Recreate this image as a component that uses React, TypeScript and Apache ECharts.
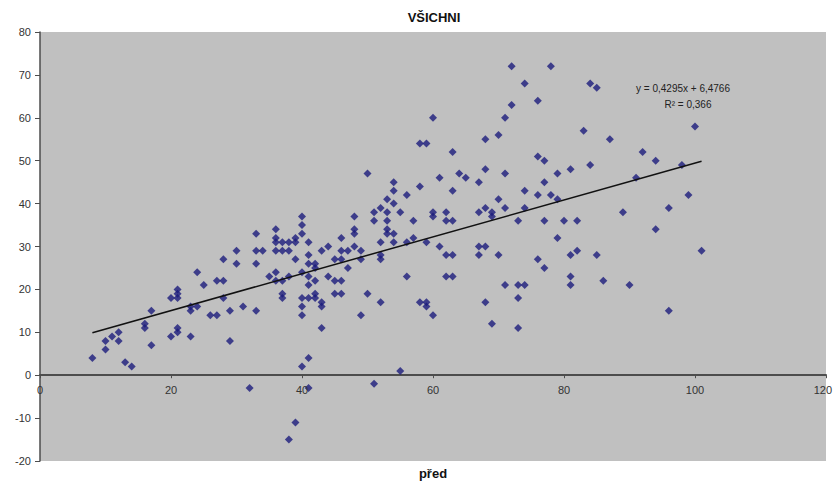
import React, { useEffect, useRef } from "react";
import * as echarts from "echarts";

// Score pairs: [před, po]
const scores: [number, number][] = [
  [8, 4], [10, 8], [10, 6], [11, 9], [12, 10], [12, 8], [13, 3], [14, 2],
  [16, 12], [16, 11], [17, 15], [17, 7],
  [20, 18], [21, 18], [21, 20], [21, 19], [20, 9], [21, 10], [21, 11],
  [23, 9], [23, 16], [23, 15], [24, 24], [24, 16], [25, 21],
  [26, 14], [27, 14], [27, 22], [28, 22], [28, 18], [28, 27],
  [29, 15], [29, 8], [30, 29], [30, 26], [31, 16], [32, -3],
  [33, 33], [33, 29], [33, 26], [33, 15], [34, 29], [35, 23],
  [36, 34], [36, 32], [36, 31], [36, 29], [36, 24], [36, 22],
  [37, 31], [37, 29], [37, 22], [37, 19], [37, 18],
  [38, 31], [38, 29], [38, 23], [38, -15],
  [39, 32], [39, 31], [39, 27], [39, -11],
  [40, 37], [40, 35], [40, 33], [40, 24], [40, 18], [40, 16], [40, 14], [40, 2],
  [41, 31], [41, 28], [41, 26], [41, 23], [41, 21], [41, 18], [41, 4], [41, -3],
  [42, 26], [42, 25], [42, 22], [42, 19], [42, 18],
  [43, 29], [43, 17], [43, 16], [43, 11],
  [44, 30], [44, 23],
  [45, 27], [45, 22], [45, 19],
  [46, 32], [46, 29], [46, 27], [46, 22], [46, 19],
  [47, 29], [47, 25],
  [48, 37], [48, 34], [48, 33], [48, 30],
  [49, 29], [49, 27], [49, 14],
  [50, 47], [50, 19],
  [51, 38], [51, 36], [51, -2],
  [52, 39], [52, 31], [52, 28], [52, 27], [52, 17],
  [53, 41], [53, 38], [53, 36], [53, 34], [53, 33],
  [54, 45], [54, 43], [54, 40], [54, 33], [54, 31],
  [55, 38], [55, 1],
  [56, 42], [56, 31], [56, 23],
  [57, 36], [57, 32],
  [58, 54], [58, 44], [58, 17],
  [59, 54], [59, 31], [59, 17], [59, 16],
  [60, 60], [60, 38], [60, 37], [60, 14],
  [61, 46], [61, 30],
  [62, 38], [62, 36], [62, 28], [62, 23],
  [63, 52], [63, 43], [63, 36], [63, 28], [63, 23],
  [64, 47], [65, 46],
  [67, 45], [67, 38], [67, 30], [67, 28],
  [68, 55], [68, 48], [68, 39], [68, 30], [68, 17],
  [69, 38], [69, 37], [69, 12],
  [70, 56], [70, 41], [70, 28],
  [71, 60], [71, 47], [71, 39], [71, 21],
  [72, 72], [72, 63],
  [73, 36], [73, 21], [73, 18], [73, 11],
  [74, 68], [74, 43], [74, 39], [74, 21],
  [76, 64], [76, 51], [76, 42], [76, 27],
  [77, 50], [77, 45], [77, 36], [77, 25],
  [78, 72], [78, 42],
  [79, 47], [79, 41], [79, 32],
  [80, 36],
  [81, 48], [81, 28], [81, 23], [81, 21],
  [82, 36], [82, 29],
  [83, 57], [84, 68], [84, 49], [85, 67], [85, 28], [86, 22], [87, 55],
  [89, 38], [90, 21], [91, 46], [92, 52], [94, 50], [94, 34],
  [96, 39], [96, 15], [98, 49], [99, 42], [100, 58], [101, 29],
];

// Linear trend fitted to the scores
const slope = 0.4295;
const intercept = 6.4766;
const rSquared = 0.366;

const xTicks = { min: 0, max: 120, step: 20 };
const yTicks = { min: -20, max: 80, step: 10 };
const xTickValues = [0, 20, 40, 60, 80, 100, 120];

const titleText = "VŠICHNI";
const xName = "před";
const fmt = (v: number) => String(v).replace(".", ",");
const equationText = `y = ${fmt(slope)}x + ${fmt(intercept)}`;
const r2Text = `R² = ${fmt(rSquared)}`;

const FONT = "'Liberation Sans', Arial, sans-serif";
const WIDTH = 833;
const HEIGHT = 483;

export default function App() {
  const ref = useRef<HTMLDivElement>(null);

  useEffect(() => {
    const el = ref.current;
    if (!el) return;
    const chart = echarts.init(el, null, { renderer: "svg" });

    const xs = scores.map((p) => p[0]);
    const xMin = Math.min(...xs);
    const xMax = Math.max(...xs);
    const trend = [
      [xMin, slope * xMin + intercept],
      [xMax, slope * xMax + intercept],
    ];

    const labelStyle = {
      fontFamily: FONT,
      fontSize: 11,
      color: "#333",
    };

    chart.setOption({
      animation: false,
      backgroundColor: "#ffffff",
      grid: {
        left: 40,
        top: 32,
        right: 7,
        bottom: 22,
        show: true,
        backgroundColor: "#c0c0c0",
        borderWidth: 0,
      },
      xAxis: {
        type: "value",
        min: xTicks.min,
        max: xTicks.max,
        interval: xTicks.step,
        axisLine: { show: true, onZero: true, lineStyle: { color: "#4d4d4d", width: 2 } },
        axisTick: { show: true, length: 3, lineStyle: { color: "#4d4d4d" } },
        axisLabel: { show: false },
        splitLine: { show: false },
      },
      yAxis: {
        type: "value",
        min: yTicks.min,
        max: yTicks.max,
        interval: yTicks.step,
        axisLine: { show: true, onZero: false, lineStyle: { color: "#4d4d4d", width: 1.5 } },
        axisTick: { show: true, length: 5, lineStyle: { color: "#4d4d4d" } },
        axisLabel: { ...labelStyle, margin: 9 },
        splitLine: { show: false },
      },
      series: [
        {
          type: "scatter",
          data: scores,
          symbol: "diamond",
          symbolSize: 8,
          itemStyle: { color: "#1c1c7c" },
          z: 3,
        },
        {
          type: "line",
          data: trend,
          showSymbol: false,
          symbol: "none",
          lineStyle: { color: "#111", width: 1.5 },
          z: 4,
        },
      ],
    });

    // X tick labels sit just under the zero line, placed through the axis scales
    const zeroY = chart.convertToPixel({ yAxisIndex: 0 }, 0) as number;
    const xLabelTexts = xTickValues.map((v) => {
      const px = chart.convertToPixel({ xAxisIndex: 0 }, v) as number;
      const nearEdge = px + 10 > WIDTH;
      return {
        type: "text",
        x: nearEdge ? WIDTH - 1 : px,
        y: zeroY + 15,
        z: 5,
        style: {
          text: String(v),
          fontFamily: FONT,
          fontSize: 11,
          fill: "#333",
          align: nearEdge ? "right" : "center",
          verticalAlign: "middle",
        },
      };
    });

    chart.setOption({
      graphic: [
        ...xLabelTexts,
        {
          type: "text",
          x: 434,
          y: 17,
          style: {
            text: titleText,
            fontFamily: FONT,
            fontSize: 13,
            fontWeight: "bold",
            fill: "#111",
            align: "center",
            verticalAlign: "middle",
          },
        },
        {
          type: "text",
          x: 433,
          y: HEIGHT - 10,
          style: {
            text: xName,
            fontFamily: FONT,
            fontSize: 13,
            fontWeight: "bold",
            fill: "#111",
            align: "center",
            verticalAlign: "middle",
          },
        },
        {
          type: "text",
          x: 683,
          y: 88,
          z: 10,
          style: {
            text: equationText,
            fontFamily: FONT,
            fontSize: 10,
            fill: "#222",
            align: "center",
            verticalAlign: "middle",
          },
        },
        {
          type: "text",
          x: 688,
          y: 104,
          z: 10,
          style: {
            text: r2Text,
            fontFamily: FONT,
            fontSize: 10,
            fill: "#222",
            align: "center",
            verticalAlign: "middle",
          },
        },
      ],
    });

    return () => chart.dispose();
  }, []);

  return (
    <div
      ref={ref}
      style={{ position: "fixed", left: 0, top: 0, width: WIDTH, height: HEIGHT, background: "#fff" }}
    />
  );
}
